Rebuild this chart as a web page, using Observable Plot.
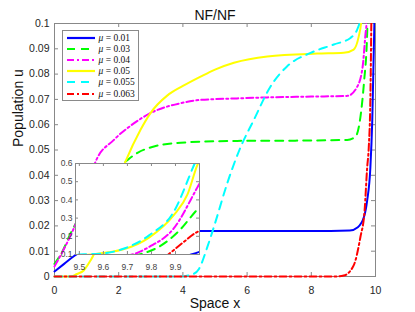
<!DOCTYPE html>
<html>
<head>
<meta charset="utf-8">
<script src="https://cdn.jsdelivr.net/npm/d3@7"></script>
<script src="https://cdn.jsdelivr.net/npm/@observablehq/plot@0.6"></script>
<style>
  html, body { margin: 0; padding: 0; background: #fff; }
  #wrap { position: relative; width: 415px; height: 312px; font-family: "Liberation Sans", Arial, sans-serif; }
  #inset { position: absolute; }
  #legend { position: absolute; background: #fff; border: 1px solid #8a8a8a; box-sizing: border-box; padding: 1px 0 0 3px; }
  .row { display: flex; align-items: center; height: 11.2px; }
  .row svg { width: 30px; height: 6px; margin-right: 3px; }
  .row span { font-family: "Liberation Serif", "DejaVu Serif", serif; font-size: 9.5px; color: #111; white-space: nowrap; }
  .row i { font-style: italic; }
</style>
</head>
<body>
<div id="wrap"></div>
<script>
// ---- data ----
const muLabels = ["0.01", "0.03", "0.04", "0.05", "0.055", "0.063"];
const colors = ["#0000ff", "#00ff00", "#ff00ff", "#ffff00", "#00ffff", "#ff0000"];
const dashes = [null, "8,6", "7,3,2,3", null, "8,6", "7,3,2,3"];

const blueX  = [0, 0.3, 0.6, 1, 1.5, 2, 3, 4.5, 6, 8, 9.2, 9.45, 9.64, 9.74, 9.84, 9.9, 9.965, 9.99, 10];
const blueY  = [0.002, 0.005, 0.008, 0.011, 0.014, 0.016, 0.0175, 0.018, 0.018, 0.018, 0.0182, 0.0195, 0.0235, 0.030, 0.043, 0.062, 0.1, 0.11, 0.115];

const greenX = [0, 0.25, 0.5, 0.8, 1.2, 1.7, 2.21, 2.6, 2.99, 3.93, 5.69, 7.5, 9.12, 9.38, 9.53, 9.64, 9.74, 9.75, 9.83, 9.91, 9.99, 10];
const greenY = [0.005, 0.01, 0.017, 0.024, 0.032, 0.04, 0.0454, 0.049, 0.051, 0.0529, 0.0536, 0.0537, 0.054, 0.0553, 0.063, 0.0765, 0.096, 0.1, 0.1415, 0.2235, 0.346, 0.36];

const magX   = [0, 0.3, 0.6, 0.9, 1.28, 1.85, 2.47, 2.99, 3.93, 4.55, 5.69, 6.63, 8, 9.12, 9.43, 9.6, 9.69, 9.72, 9.79, 9.892, 9.99, 10];
const magY   = [0.004, 0.011, 0.019, 0.029, 0.0454, 0.054, 0.0605, 0.0646, 0.0685, 0.0698, 0.0704, 0.0708, 0.0711, 0.0714, 0.075, 0.083, 0.096, 0.1, 0.1415, 0.242, 0.466, 0.49];

const yelX   = [0, 0.5, 0.7, 0.91, 1.12, 1.22, 1.6, 2.21, 2.68, 2.99, 3.51, 4.0, 4.55, 5.0, 5.59, 6.63, 8.18, 9.01, 9.32, 9.48, 9.55, 9.62, 9.68, 9.79, 9.892, 9.95, 9.99, 10];
const yelY   = [0, 0, 0.001, 0.0024, 0.0063, 0.0086, 0.024, 0.0454, 0.058, 0.0646, 0.0715, 0.0753, 0.079, 0.0818, 0.0845, 0.087, 0.0881, 0.0884, 0.0897, 0.095, 0.1, 0.112, 0.127, 0.193, 0.315, 0.43, 0.588, 0.62];

const cyanX  = [0, 4.0, 4.13, 4.3, 4.5, 4.76, 5.0, 5.38, 5.76, 6.21, 6.73, 7.25, 7.98, 8.7, 9.22, 9.43, 9.5, 9.6, 9.68, 9.79, 9.892, 9.98, 10];
const cyanY  = [0, 0, 0.0003, 0.0008, 0.003, 0.0116, 0.021, 0.0368, 0.05, 0.0619, 0.0751, 0.0831, 0.0884, 0.0917, 0.0943, 0.0976, 0.1, 0.106, 0.13, 0.205, 0.333, 0.6, 0.66];

const redX   = [0, 8.7, 9.01, 9.32, 9.53, 9.66, 9.74, 9.79, 9.84, 9.87, 9.926, 9.99, 10];
const redY   = [0, 0, 0.0004, 0.0044, 0.0156, 0.026, 0.043, 0.051, 0.07, 0.1, 0.16, 0.2235, 0.23];

const xTicks = [0, 2, 4, 6, 8, 10];
const yTicks = [0, 0.01, 0.02, 0.03, 0.04, 0.05, 0.06, 0.07, 0.08, 0.09, 0.1];
const insetXTicks = [9.5, 9.6, 9.7, 9.8, 9.9];
const insetYTicks = [0.1, 0.2, 0.3, 0.4, 0.5, 0.6];
const titleText = "NF/NF";
const xLabel = "Space x";
const yLabel = "Population u";

// ---- build table ----
const seriesXY = [[blueX, blueY], [greenX, greenY], [magX, magY], [yelX, yelY], [cyanX, cyanY], [redX, redY]];
const series = seriesXY.map(([xs, ys], i) => ({
  mu: muLabels[i], color: colors[i], dash: dashes[i],
  pts: xs.map((x, j) => ({x, y: ys[j]}))
}));

const axisColor = "#888";
const textColor = "#262626";

function lineMarks(clipOpt) {
  return series.map(s => Plot.line(s.pts, {
    x: "x", y: "y", stroke: s.color, strokeWidth: 2,
    strokeDasharray: s.dash, clip: clipOpt, curve: "monotone-x"
  }));
}

// ---- main plot ----
const W = 415, H = 312, mL = 54, mR = 40, mT = 23, mB = 36;
const fw = W - mL - mR, fh = H - mT - mB, tk = 4;
const main = Plot.plot({
  width: W, height: H,
  marginLeft: mL, marginRight: mR, marginTop: mT, marginBottom: mB,
  style: {fontFamily: '"Liberation Sans", Arial, sans-serif', color: textColor, background: "white"},
  x: {domain: [0, 10]},
  y: {domain: [0, 0.1]},
  marks: [
    Plot.frame({stroke: axisColor, strokeWidth: 1}),
    Plot.tickX(xTicks, {x: d => d, stroke: axisColor, insetTop: fh - tk}),
    Plot.tickX(xTicks, {x: d => d, stroke: axisColor, insetBottom: fh - tk}),
    Plot.tickY(yTicks, {y: d => d, stroke: axisColor, insetRight: fw - tk}),
    Plot.tickY(yTicks, {y: d => d, stroke: axisColor, insetLeft: fw - tk}),
    ...lineMarks(true),
    Plot.axisX(xTicks, {tickSize: 0, tickPadding: 10, fontSize: 10.5, label: null, fill: textColor, tickFormat: d => String(d)}),
    Plot.axisY(yTicks, {tickSize: 0, tickPadding: 5, fontSize: 10.5, label: null, fill: textColor, tickFormat: d => String(d)}),
    Plot.text([titleText], {frameAnchor: "top", dy: -13, fontSize: 14, fill: "#111"}),
    Plot.text([xLabel], {frameAnchor: "bottom", dy: 31, fontSize: 14, fill: "#111"}),
    Plot.text([yLabel], {frameAnchor: "left", dx: -36, dy: -3, rotate: -90, fontSize: 14, fill: "#111"})
  ]
});
// let lines at y = 0 and x = 0 show their full width, as the reference does
main.querySelectorAll("clipPath rect").forEach(r => {
  r.setAttribute("x", +r.getAttribute("x") - 2);
  r.setAttribute("width", +r.getAttribute("width") + 2);
  r.setAttribute("height", +r.getAttribute("height") + 3);
});
document.getElementById("wrap").appendChild(main);

// ---- inset ----
const iL = 20, iR = 5, iT = 5, iB = 17;
const ifw = 124, ifh = 91;
const inset = Plot.plot({
  width: iL + ifw + iR, height: iT + ifh + iB,
  marginLeft: iL, marginRight: iR, marginTop: iT, marginBottom: iB,
  style: {fontFamily: '"Liberation Sans", Arial, sans-serif', color: textColor, background: "transparent", overflow: "visible"},
  x: {domain: [9.484, 10]},
  y: {domain: [0.1, 0.6]},
  marks: [
    Plot.frame({fill: "white", stroke: null}),
    ...lineMarks(true),
    Plot.frame({stroke: axisColor, strokeWidth: 1}),
    Plot.tickX(insetXTicks, {x: d => d, stroke: axisColor, insetTop: ifh - 3}),
    Plot.tickX(insetXTicks, {x: d => d, stroke: axisColor, insetBottom: ifh - 3}),
    Plot.tickY(insetYTicks, {y: d => d, stroke: axisColor, insetRight: ifw - 3}),
    Plot.tickY(insetYTicks, {y: d => d, stroke: axisColor, insetLeft: ifw - 3}),
    Plot.axisX(insetXTicks, {tickSize: 0, tickPadding: 9, fontSize: 8.5, label: null, fill: "#444", tickFormat: d => d.toFixed(1)}),
    Plot.axisY(insetYTicks, {tickSize: 0, tickPadding: 3, fontSize: 8.5, label: null, fill: "#444", tickFormat: d => d.toFixed(1)})
  ]
});
inset.id = "inset";
inset.style.left = (75 - iL) + "px";
inset.style.top = (163 - iT) + "px";
document.getElementById("wrap").appendChild(inset);

// ---- legend ----
const leg = document.createElement("div");
leg.id = "legend";
leg.style.left = "61.5px"; leg.style.top = "30px";
leg.style.width = "77px"; leg.style.height = "71px";
series.forEach(s => {
  const row = document.createElement("div");
  row.className = "row";
  row.innerHTML = `<svg viewBox="0 0 30 6"><line x1="1" y1="3" x2="29" y2="3" stroke="${s.color}" stroke-width="2.2" ${s.dash ? `stroke-dasharray="${s.dash}"` : ""}/></svg><span><i>μ</i> = ${s.mu}</span>`;
  leg.appendChild(row);
});
document.getElementById("wrap").appendChild(leg);
</script>
</body>
</html>
